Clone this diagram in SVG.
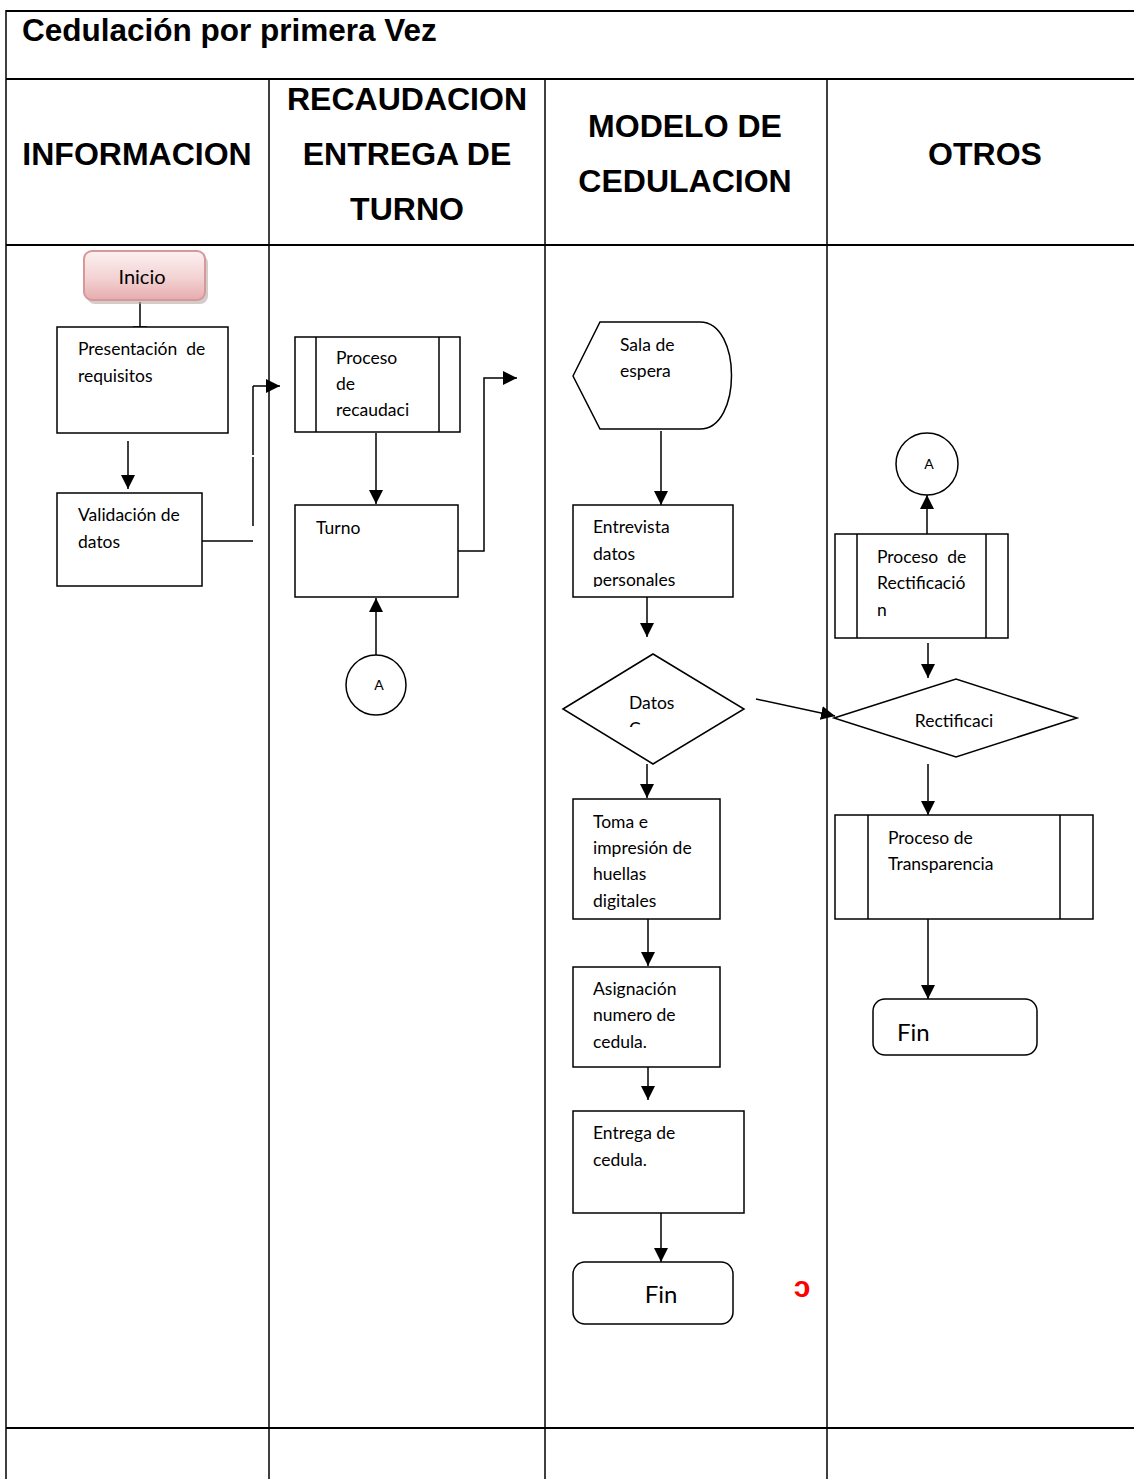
<svg xmlns="http://www.w3.org/2000/svg" width="1134" height="1479" viewBox="0 0 1134 1479">
  <style>
    .grid { stroke: #000; stroke-width: 2; fill: none; }
    .gridv { stroke: #000; stroke-width: 1.5; fill: none; }
    .hdr { font-family: "Liberation Sans", Arial, sans-serif; font-weight: bold; font-size: 32px; fill: #000; }
    .title { font-family: "Liberation Sans", Arial, sans-serif; font-weight: bold; font-size: 31.5px; fill: #000; }
    .box { fill: #fff; stroke: #000; stroke-width: 1.5; }
    .lbl { font-family: Lato, "Open Sans", sans-serif; font-size: 17.5px; fill: #000; }
    .big { font-family: Lato, "Open Sans", sans-serif; font-size: 24px; fill: #000; }
    .sm { font-family: Lato, "Open Sans", sans-serif; font-size: 14px; fill: #000; }
    .conn { stroke: #000; stroke-width: 1.5; fill: none; }
    .arr { marker-end: url(#ah); }
  </style>
  <defs>
    <marker id="ah" markerUnits="userSpaceOnUse" markerWidth="14" markerHeight="14" refX="14" refY="7" orient="auto">
      <path d="M0,0 L14,7 L0,14 Z" fill="#000"/>
    </marker>
    <linearGradient id="pink" x1="0" y1="0" x2="0" y2="1">
      <stop offset="0" stop-color="#fdf1f1"/>
      <stop offset="0.55" stop-color="#f3d2d3"/>
      <stop offset="1" stop-color="#e7acae"/>
    </linearGradient>
    <clipPath id="clipEntrevista"><rect x="573" y="505" width="160" height="82"/></clipPath>
    <clipPath id="clipDatos"><rect x="600" y="690" width="80" height="37"/></clipPath>
  </defs>

  <rect x="0" y="0" width="1134" height="1479" fill="#fff"/>

  <!-- table grid -->
  <g id="table">
    <line class="grid" x1="6" y1="11" x2="1134" y2="11"/>
    <line class="grid" x1="6" y1="79" x2="1134" y2="79"/>
    <line class="grid" x1="6" y1="245" x2="1134" y2="245"/>
    <line class="grid" x1="6" y1="1428" x2="1134" y2="1428"/>
    <line class="gridv" x1="6" y1="10" x2="6" y2="1479"/>
    <line class="gridv" x1="269" y1="79" x2="269" y2="1479"/>
    <line class="gridv" x1="545" y1="79" x2="545" y2="1479"/>
    <line class="gridv" x1="827" y1="79" x2="827" y2="1479"/>
    <text class="title" x="22" y="41">Cedulación por primera Vez</text>
    <text class="hdr" x="137" y="165" text-anchor="middle">INFORMACION</text>
    <text class="hdr" x="407" y="110" text-anchor="middle">RECAUDACION</text>
    <text class="hdr" x="407" y="165" text-anchor="middle">ENTREGA DE</text>
    <text class="hdr" x="407" y="220" text-anchor="middle">TURNO</text>
    <text class="hdr" x="685" y="137" text-anchor="middle">MODELO DE</text>
    <text class="hdr" x="685" y="192" text-anchor="middle">CEDULACION</text>
    <text class="hdr" x="985" y="165" text-anchor="middle">OTROS</text>
  </g>

  <!-- connectors -->
  <g id="connectors">
    <line class="conn" x1="140" y1="302" x2="140" y2="327"/>
    <line class="conn" x1="133" y1="327" x2="147" y2="327"/>
    <line class="conn arr" x1="128" y1="441" x2="128" y2="489"/>
    <polyline class="conn" points="202,541 253,541"/>
    <line class="conn" x1="253" y1="526" x2="253" y2="457"/>
    <line class="conn" x1="253" y1="455" x2="253" y2="386"/>
    <polyline class="conn arr" points="253,386 262,386 280,386"/>
    <line class="conn arr" x1="376" y1="433" x2="376" y2="504"/>
    <polyline class="conn arr" points="458,551 484,551 484,378 517,378"/>
    <line class="conn arr" x1="376" y1="655" x2="376" y2="598"/>
    <line class="conn arr" x1="661" y1="431" x2="661" y2="505"/>
    <line class="conn arr" x1="647" y1="597" x2="647" y2="637"/>
    <line class="conn arr" x1="756" y1="699" x2="835" y2="716"/>
    <line class="conn arr" x1="647" y1="764" x2="647" y2="798"/>
    <line class="conn arr" x1="648" y1="919" x2="648" y2="966"/>
    <line class="conn arr" x1="648" y1="1067" x2="648" y2="1100"/>
    <line class="conn arr" x1="661" y1="1213" x2="661" y2="1262"/>
    <line class="conn arr" x1="927" y1="534" x2="927" y2="495"/>
    <line class="conn arr" x1="928" y1="643" x2="928" y2="678"/>
    <line class="conn arr" x1="928" y1="764" x2="928" y2="815"/>
    <line class="conn arr" x1="928" y1="919" x2="928" y2="999"/>
  </g>

  <!-- INFORMACION lane -->
  <g id="inicio">
    <rect x="87" y="255" width="121" height="49" rx="8" fill="#b8a8a8" opacity="0.6"/>
    <rect x="84" y="251" width="121" height="49" rx="8" fill="url(#pink)" stroke="#d7989a" stroke-width="2"/>
    <text x="142" y="284" text-anchor="middle" font-family="Lato, 'Open Sans', sans-serif" font-size="20" fill="#000">Inicio</text>
  </g>
  <g id="presentacion">
    <rect class="box" x="57" y="327" width="171" height="106"/>
    <text class="lbl" x="78" y="355" xml:space="preserve">Presentación  de</text>
    <text class="lbl" x="78" y="382">requisitos</text>
  </g>
  <g id="validacion">
    <rect class="box" x="57" y="493" width="145" height="93"/>
    <text class="lbl" x="78" y="521">Validación de</text>
    <text class="lbl" x="78" y="548">datos</text>
  </g>

  <!-- RECAUDACION lane -->
  <g id="proceso-recaudacion">
    <rect class="box" x="295" y="337" width="165" height="95"/>
    <line class="conn" x1="316" y1="337" x2="316" y2="432"/>
    <line class="conn" x1="439" y1="337" x2="439" y2="432"/>
    <text class="lbl" x="336" y="364">Proceso</text>
    <text class="lbl" x="336" y="390">de</text>
    <text class="lbl" x="336" y="416">recaudaci</text>
  </g>
  <g id="turno">
    <rect class="box" x="295" y="505" width="163" height="92"/>
    <text class="lbl" x="316" y="534">Turno</text>
  </g>
  <g id="conector-a1">
    <circle class="box" cx="376" cy="685" r="30"/>
    <text class="sm" x="379" y="690" text-anchor="middle">A</text>
  </g>

  <!-- MODELO DE CEDULACION lane -->
  <g id="sala-espera">
    <path class="box" d="M573,376 L600,322 L700,322 C742,322 742,429 700,429 L600,429 Z"/>
    <text class="lbl" x="620" y="351">Sala de</text>
    <text class="lbl" x="620" y="377">espera</text>
  </g>
  <g id="entrevista">
    <rect class="box" x="573" y="505" width="160" height="92"/>
    <g clip-path="url(#clipEntrevista)">
      <text class="lbl" x="593" y="533">Entrevista</text>
      <text class="lbl" x="593" y="560">datos</text>
      <text class="lbl" x="593" y="586">personales</text>
    </g>
  </g>
  <g id="datos-correctos">
    <polygon class="box" points="563,709 653,654 744,709 653,764"/>
    <text class="lbl" x="629" y="709">Datos</text>
    <text class="lbl" x="629" y="735" clip-path="url(#clipDatos)">C</text>
  </g>
  <g id="huellas">
    <rect class="box" x="573" y="799" width="147" height="120"/>
    <text class="lbl" x="593" y="828">Toma e</text>
    <text class="lbl" x="593" y="854">impresión de</text>
    <text class="lbl" x="593" y="880">huellas</text>
    <text class="lbl" x="593" y="907">digitales</text>
  </g>
  <g id="asignacion">
    <rect class="box" x="573" y="967" width="147" height="100"/>
    <text class="lbl" x="593" y="995">Asignación</text>
    <text class="lbl" x="593" y="1021">numero de</text>
    <text class="lbl" x="593" y="1048">cedula.</text>
  </g>
  <g id="entrega">
    <rect class="box" x="573" y="1111" width="171" height="102"/>
    <text class="lbl" x="593" y="1139">Entrega de</text>
    <text class="lbl" x="593" y="1166">cedula.</text>
  </g>
  <g id="fin-cedulacion">
    <rect class="box" x="573" y="1262" width="160" height="62" rx="12"/>
    <text class="big" x="661" y="1303" text-anchor="middle">Fin</text>
  </g>
  <g id="marca">
    <text x="802" y="1297" text-anchor="middle" font-family="'Liberation Sans', 'DejaVu Sans', sans-serif" font-weight="bold" font-size="30" fill="#ff0000">ɔ</text>
  </g>

  <!-- OTROS lane -->
  <g id="conector-a2">
    <circle class="box" cx="927" cy="464" r="31"/>
    <text class="sm" x="929" y="469" text-anchor="middle">A</text>
  </g>
  <g id="proceso-rectificacion">
    <rect class="box" x="835" y="534" width="173" height="104"/>
    <line class="conn" x1="857" y1="534" x2="857" y2="638"/>
    <line class="conn" x1="986" y1="534" x2="986" y2="638"/>
    <text class="lbl" x="877" y="563" xml:space="preserve">Proceso  de</text>
    <text class="lbl" x="877" y="589">Rectificació</text>
    <text class="lbl" x="877" y="616">n</text>
  </g>
  <g id="rectificacion">
    <polygon class="box" points="834,718 956,679 1077,718 956,757"/>
    <text class="lbl" x="954" y="727" text-anchor="middle">Rectificaci</text>
  </g>
  <g id="proceso-transparencia">
    <rect class="box" x="835" y="815" width="258" height="104"/>
    <line class="conn" x1="868" y1="815" x2="868" y2="919"/>
    <line class="conn" x1="1060" y1="815" x2="1060" y2="919"/>
    <text class="lbl" x="888" y="844">Proceso de</text>
    <text class="lbl" x="888" y="870">Transparencia</text>
  </g>
  <g id="fin-otros">
    <rect class="box" x="873" y="999" width="164" height="56" rx="12"/>
    <text class="big" x="897" y="1041">Fin</text>
  </g>
</svg>
